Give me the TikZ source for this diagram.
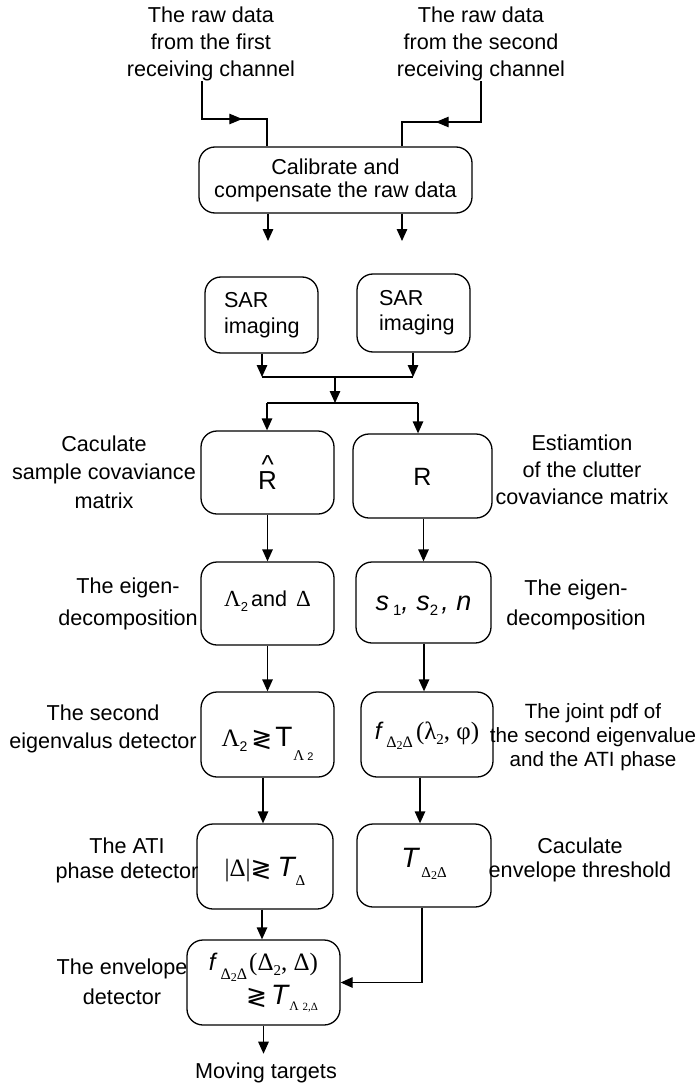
\documentclass[tikz,border=0pt]{standalone}
\usepackage{fontspec}
\setmainfont{Liberation Sans}
\newfontfamily\tms{Liberation Serif}
\newfontfamily\djv{DejaVu Sans}
\usetikzlibrary{arrows.meta,decorations.markings,calc}

% font size with equal baselineskip
\newcommand\fs[1]{\fontsize{#1}{#1}\selectfont}
% lowered, resized piece of text (subscripts)
\newcommand\low[3]{\raisebox{-#1}{\fs{#2}#3}}
% "greater or less" comparison sign
\newcommand\cmp{\raisebox{-1pt}{\djv\fs{25}≷}}

\tikzset{
  ln/.style={line width=1.3pt},
  arr/.style={ln, -{Triangle[length=12pt,width=10.5pt]}},
  box/.style={draw, line width=1.3pt, rounded corners=16pt, inner sep=0pt,
              font=\fontsize{21.6pt}{23pt}\selectfont},
  bl/.style={text height=#1, text depth=0pt},
  lab/.style={align=center, inner sep=0pt, font=\fontsize{21.6pt}{#1}\selectfont},
  midarr/.style={postaction={decorate}, decoration={markings,
      mark=at position #1 with {\arrow{Triangle[length=13pt,width=10.5pt]}}}},
}

\begin{document}
\begin{tikzpicture}[x=1pt,y=-1pt]
\useasboundingbox (0,0) rectangle (697,1086);

% ---- inputs ----
\node[lab=27pt] (srcA) at (211,44) {The raw data\\from the first\\receiving channel};
\node[lab=27pt] (srcB) at (481,44) {The raw data\\from the second\\receiving channel};

% ---- processing boxes ----
\node[box, align=center, minimum width=273pt, minimum height=66pt] (calib) at (335.5,180)
  {Calibrate and\\compensate the raw data};

\node[box, align=left, text width=75pt, minimum width=113pt, minimum height=76pt,
      font=\fontsize{21.6pt}{26pt}\selectfont] (sarA) at (261.5,315) {SAR\\imaging};
\node[box, align=left, text width=69pt, minimum width=113pt, minimum height=78pt,
      font=\fontsize{21.6pt}{25pt}\selectfont] (sarB) at (413.5,313) {SAR\\imaging};

\node[box, bl=33pt, minimum width=133pt, minimum height=83pt] (rhat) at (267.5,472.5)
  {\fs{26}\rlap{\hspace{3.4pt}\raisebox{15.5pt}{\textasciicircum}}R};
\node[box, bl=18pt, minimum width=139pt, minimum height=84pt] (rr) at (422.5,476)
  {\fs{25}R};

\node[box, bl=6.5pt, minimum width=133pt, minimum height=83pt] (lam) at (267.5,603.5)
  {{\tms\fs{23}Λ}\low{5pt}{13}{2}\hspace{3pt}and\hspace{9pt}{\tms\fs{23}Δ}};
\node[box, bl=15pt, minimum width=135pt, minimum height=81pt] (svec) at (423.5,602.5)
  {{\itshape\fs{27}s}\hspace{4pt}\low{5pt}{15}{1}{\itshape\fs{27}, s}\low{5pt}{15}{2}\hspace{3pt}{\itshape\fs{27}, n}};

\node[box, bl=23pt, minimum width=133pt, minimum height=85pt] (det) at (267.5,734.5)
  {{\tms\fs{25}Λ}\low{5pt}{14}{2}\hspace{4pt}\cmp\hspace{3pt}{\fs{28}T}\hspace{1pt}\low{14pt}{15}{\tms Λ\hspace{3pt}\fs{11}\rmfamily 2}};
\node[box, bl=9pt, minimum width=132pt, minimum height=85pt] (pdf) at (427,734.5)
  {{\itshape\fs{24}f}\hspace{5pt}\low{8pt}{16}{\tms Δ\low{2pt}{12}{2}Δ}\hspace{3pt}{\tms\fs{25}(λ\low{5pt}{15}{2}, φ)}};

\node[box, bl=19pt, minimum width=136pt, minimum height=85pt] (ati) at (265,866.5)
  {{\tms\fs{25}|Δ|}\cmp\hspace{6pt}{\itshape\fs{28}T}\hspace{1pt}\low{9pt}{15}{\tms Δ}};
\node[box, bl=3pt, minimum width=134pt, minimum height=83pt] (thr) at (424,865.5)
  {{\itshape\fs{28}T}\hspace{3pt}\low{10pt}{15}{\tms Δ\low{2pt}{12}{2}Δ}};

\node[box, align=right, minimum width=153pt, minimum height=85pt,
      font=\fontsize{24pt}{34pt}\selectfont] (env) at (263.5,982.5)
  {{\itshape\fs{24}f}\hspace{5pt}\low{9pt}{16}{\tms Δ\low{2pt}{12}{2}Δ}\hspace{2pt}{\tms\fs{25}(Δ\low{5pt}{15}{2}, Δ)}\\
   \cmp\hspace{4pt}{\itshape\fs{28}T}\hspace{1pt}\low{6pt}{13}{\tms Λ\hspace{4pt}\fs{11}2,Δ}};

\node[lab=26pt, inner ysep=9pt] (goal) at (266,1073) {Moving targets};

% ---- side labels ----
\node[lab=28.5pt] (tA1) at (104,472) {Caculate\\sample covaviance\\matrix};
\node[lab=27pt]   (tB1) at (582,470) {Estiamtion\\of the clutter\\covaviance matrix};
\node[lab=32pt]   (tA2) at (128,604) {The eigen-\\decomposition};
\node[lab=30pt]   (tB2) at (576,605) {The eigen-\\decomposition};
\node[lab=28pt]   (tA3) at (103,729) {The second\\eigenvalus detector};
\node[lab=24pt, font=\fontsize{20.6pt}{24pt}\selectfont]
                  (tB3) at (593,737) {The joint pdf of\\the second eigenvalue\\and the ATI phase};
\node[lab=25pt]   (tA4) at (127,860) {The ATI\\phase detector};
\node[lab=24pt]   (tB4) at (580,860) {Caculate\\envelope threshold};
\node[lab=30pt]   (tA5) at (122,982) {The envelope\\detector};

% ---- connectors ----
\coordinate (kA) at (202,119);  \coordinate (kA2) at (267,119);
\coordinate (kB) at (481,122);  \coordinate (kB2) at (402,122);
\draw[ln, midarr=78pt] (srcA.south -| kA) -- (kA) -- (kA2) -- (kA2 |- calib.north);
\draw[ln, midarr=86pt] (srcB.south -| kB) -- (kB) -- (kB2) -- (kB2 |- calib.north);

\coordinate (cA) at (268,241);  \coordinate (cB) at (402,241);
\draw[arr] (calib.south -| cA) -- (cA);
\draw[arr] (calib.south -| cB) -- (cB);

\coordinate (mA) at (262,377);  \coordinate (mB) at (413,377);
\coordinate (mC) at (335,377);  \coordinate (mD) at (335,403);
\draw[arr] (sarA.south -| mA) -- (mA);
\draw[arr] (sarB.south -| mB) -- (mB);
\draw[ln] (mA) -- (mB);
\draw[arr] (mC) -- (mD);

\coordinate (sA) at (267,403);  \coordinate (sB) at (418,403);
\draw[ln] (sA) -- (sB);
\draw[arr] (sA) -- (sA |- rhat.north);
\draw[arr] (sB) -- (sB |- rr.north);

\draw[arr] (rhat.south) -- (lam.north);
\draw[arr] (rr.south -| svec.north) -- (svec.north);
\draw[arr] (lam.south) -- (det.north);
\draw[arr] ([xshift=0.5pt]svec.south) -- ([xshift=0.5pt]svec.south |- pdf.north);
\draw[arr] ([xshift=-4.5pt]det.south) -- ([xshift=-4.5pt]det.south |- ati.north);
\draw[arr] ([xshift=-7pt]pdf.south) -- ([xshift=-7pt]pdf.south |- thr.north);
\draw[arr] ([xshift=-3pt]ati.south) -- ([xshift=-3pt]ati.south |- env.north);
\draw[arr] ([xshift=-2pt]thr.south) |- (env.east);
\draw[arr] (env.south) -- (env.south |- goal.north);
\end{tikzpicture}
\end{document}
